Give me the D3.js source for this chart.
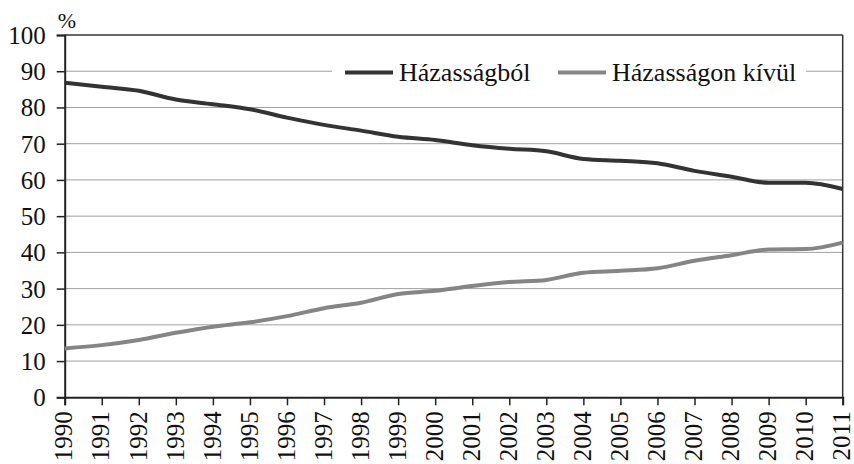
<!DOCTYPE html>
<html>
<head>
<meta charset="utf-8">
<script src="https://cdn.jsdelivr.net/npm/d3@7"></script>
<style>
  html, body { margin: 0; padding: 0; background: #fff; }
  svg { display: block; }
  text { font-family: "Liberation Serif", "Times New Roman", serif; fill: #111; }
</style>
</head>
<body>
<svg id="chart" width="854" height="464"></svg>
<script>
const years = [1990,1991,1992,1993,1994,1995,1996,1997,1998,1999,2000,2001,2002,2003,2004,2005,2006,2007,2008,2009,2010,2011];
const hazassagbol = [86.8,85.7,84.6,82.2,80.9,79.5,77.2,75.2,73.6,71.9,71.0,69.6,68.6,67.9,65.8,65.3,64.6,62.5,60.9,59.2,59.2,57.5];
const hazassagonKivul = [13.5,14.4,15.8,17.8,19.5,20.7,22.4,24.6,26.1,28.5,29.4,30.7,31.8,32.4,34.4,34.9,35.6,37.7,39.2,40.8,40.9,42.7];
const yTicks = [0,10,20,30,40,50,60,70,80,90,100];
const seriesNames = ["Házasságból", "Házasságon kívül"];
const seriesColors = ["#333333", "#858585"];

(function () {
const svg = d3.select("#chart");
const pLeft = 64.7, pRight = 842.7, pTop = 35, pBottom = 397.3;

const x = d3.scaleLinear().domain([1990, 2011]).range([pLeft, pRight]);
const y = d3.scaleLinear().domain([0, 100]).range([pBottom, pTop]);

// gridlines
svg.append("g")
  .selectAll("line")
  .data(yTicks.filter(t => t > 0 && t < 100))
  .join("line")
  .attr("x1", pLeft).attr("x2", pRight)
  .attr("y1", d => y(d)).attr("y2", d => y(d))
  .attr("stroke", "#a0a0a0").attr("stroke-width", 1);

// plot border (top, right)
svg.append("line").attr("x1", pLeft).attr("x2", pRight).attr("y1", pTop).attr("y2", pTop)
  .attr("stroke", "#333").attr("stroke-width", 1.5);
svg.append("line").attr("x1", pRight).attr("x2", pRight).attr("y1", pTop).attr("y2", pBottom)
  .attr("stroke", "#333").attr("stroke-width", 1.5);

// y axis
const yAxis = d3.axisLeft(y).tickValues(yTicks).tickSize(8).tickPadding(11).tickFormat(d3.format("d"));
const gy = svg.append("g").attr("transform", `translate(${pLeft},0)`).call(yAxis);
gy.select(".domain").attr("stroke", "#222").attr("stroke-width", 2);
gy.selectAll(".tick line").attr("stroke", "#222").attr("stroke-width", 1.5);
gy.selectAll(".tick text")
  .style("font-family", '"Liberation Serif", "Times New Roman", serif')
  .style("font-size", "25px").attr("fill", "#111").attr("dy", "0.34em");

// x axis
const xAxis = d3.axisBottom(x).tickValues(years).tickSize(8).tickFormat(d3.format("d"));
const gx = svg.append("g").attr("transform", `translate(0,${pBottom})`).call(xAxis);
gx.select(".domain").attr("stroke", "#222").attr("stroke-width", 2);
gx.selectAll(".tick line").attr("stroke", "#222").attr("stroke-width", 1.5);
gx.selectAll(".tick text")
  .style("font-family", '"Liberation Serif", "Times New Roman", serif')
  .style("font-size", "25px").attr("fill", "#111")
  .attr("text-anchor", "end")
  .attr("transform", "rotate(-90)")
  .attr("x", -14).attr("y", 0).attr("dy", "0.29em");

// % label
svg.append("text").attr("x", 67).attr("y", 28).attr("text-anchor", "middle")
  .style("font-size", "22px").text("%");

// lines
const line = d3.line()
  .x((d, i) => x(years[i]))
  .y(d => y(d))
  .curve(d3.curveMonotoneX);

[hazassagbol, hazassagonKivul].forEach((vals, k) => {
  svg.append("path")
    .datum(vals)
    .attr("d", line)
    .attr("fill", "none")
    .attr("stroke", seriesColors[k])
    .attr("stroke-width", 4)
    .attr("stroke-linejoin", "round");
});

// legend
const lg = svg.append("g");
lg.append("rect").attr("x", 332).attr("y", 55).attr("width", 474).attr("height", 36).attr("fill", "#fff");
const legendItems = [
  { lx: 345, tx: 399 },
  { lx: 558, tx: 612 }
];
legendItems.forEach((it, k) => {
  lg.append("line").attr("x1", it.lx).attr("x2", it.lx + 48).attr("y1", 72.5).attr("y2", 72.5)
    .attr("stroke", seriesColors[k]).attr("stroke-width", 4);
  lg.append("text").attr("x", it.tx).attr("y", 80.5)
    .style("font-size", "26px").text(seriesNames[k]);
});
})();
</script>
</body>
</html>
